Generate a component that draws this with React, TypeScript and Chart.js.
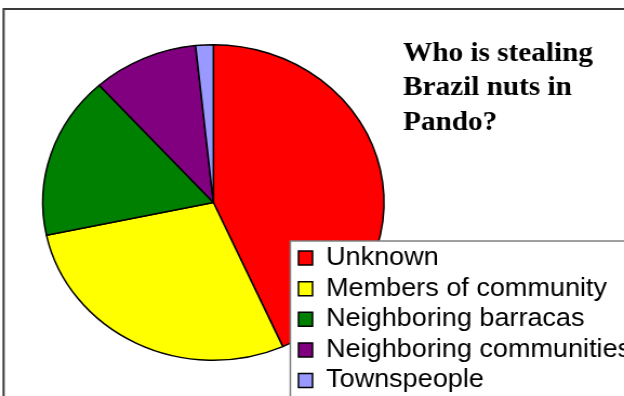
import React, { useEffect, useRef } from 'react';
import { Chart, registerables } from 'chart.js';

Chart.register(...registerables);

const categories = [
  'Unknown',
  'Members of community',
  'Neighboring barracas',
  'Neighboring communities',
  'Townspeople',
];
const counts = [26, 17, 10, 6, 1];
const sliceColors = ['#FF0000', '#FFFF00', '#008000', '#800080', '#9999FF'];
const titleLines = ['Who is stealing', 'Brazil nuts in', 'Pando?'];

// the reference is stretched horizontally; draw on a narrower canvas and stretch with CSS
const SX = 1.082;
const W = 577;
const H = 396;

const LEGEND_FONT = 25;
const LEGEND_PAD = 5.65;

export default function App() {
  const ref = useRef<HTMLCanvasElement>(null);

  useEffect(() => {
    const canvas = ref.current;
    if (!canvas) return;

    const placement = {
      id: 'placement',
      afterLayout(chart: any) {
        const cx = 213.5 / SX;
        const cy = 202.5;
        const r = 175;
        chart.chartArea = {
          left: cx - r,
          right: cx + r,
          top: cy - r,
          bottom: cy + r,
          width: 2 * r,
          height: 2 * r,
        };
        const t = chart.titleBlock;
        if (t) {
          t.left = 403.3 / SX;
          t.right = t.left + 260;
          t.top = 37.1;
          t.bottom = t.top + 110;
        }
        const lg = chart.legend;
        if (lg) {
          lg.left = 276 - LEGEND_PAD;
          lg.top = 258 - LEGEND_FONT / 2 - LEGEND_PAD;
          lg.right = W + 200;
          lg.bottom = lg.top + 1000;
        }
      },
      beforeDraw(chart: any) {
        const ctx = chart.ctx;
        ctx.save();
        ctx.fillStyle = '#FFFFFF';
        ctx.fillRect(0, 0, chart.width, chart.height);
        ctx.strokeStyle = '#3a3a3a';
        ctx.lineWidth = 2;
        ctx.strokeRect(3.6 / SX, 9, chart.width + 50, chart.height + 50);
        ctx.restore();
      },
      afterDatasetsDraw(chart: any) {
        const ctx = chart.ctx;
        const x0 = 290.5 / SX;
        const y0 = 241;
        ctx.save();
        ctx.fillStyle = '#FFFFFF';
        ctx.fillRect(x0, y0, chart.width - x0 + 50, chart.height - y0 + 50);
        ctx.strokeStyle = '#808080';
        ctx.lineWidth = 1.5;
        ctx.strokeRect(x0, y0, chart.width - x0 + 50, chart.height - y0 + 50);
        ctx.restore();
        if (chart.legend) chart.legend.draw();
      },
    };

    const chart = new Chart(canvas, {
      type: 'pie',
      data: {
        labels: categories,
        datasets: [
          {
            data: counts,
            backgroundColor: sliceColors,
            borderColor: '#000000',
            borderWidth: 1.5,
            radius: 157.8,
            hoverOffset: 0,
          } as any,
        ],
      },
      options: {
        responsive: false,
        animation: false,
        devicePixelRatio: 1,
        events: [],
        layout: { padding: 0 },
        plugins: {
          title: {
            display: true,
            text: titleLines,
            align: 'start',
            position: 'top',
            color: '#000000',
            padding: 0,
            font: {
              family: "'Times New Roman', 'Liberation Serif', serif",
              size: 27,
              weight: 'bold',
              lineHeight: 1.267,
            },
          },
          legend: {
            display: true,
            position: 'chartArea' as any,
            align: 'start',
            labels: {
              color: '#000000',
              boxWidth: 13,
              boxHeight: 14,
              padding: LEGEND_PAD,
              font: {
                family: "Arial, 'Liberation Sans', sans-serif",
                size: LEGEND_FONT,
              },
            },
          },
          tooltip: { enabled: false },
        },
      },
      plugins: [placement],
    });

    return () => {
      chart.destroy();
    };
  }, []);

  return (
    <div style={{ position: 'absolute', left: 0, top: 0, width: '624px', height: '396px', overflow: 'hidden', background: '#fff' }}>
      <canvas
        ref={ref}
        width={W}
        height={H}
        style={{ width: '624px', height: '396px', display: 'block' }}
      />
    </div>
  );
}
